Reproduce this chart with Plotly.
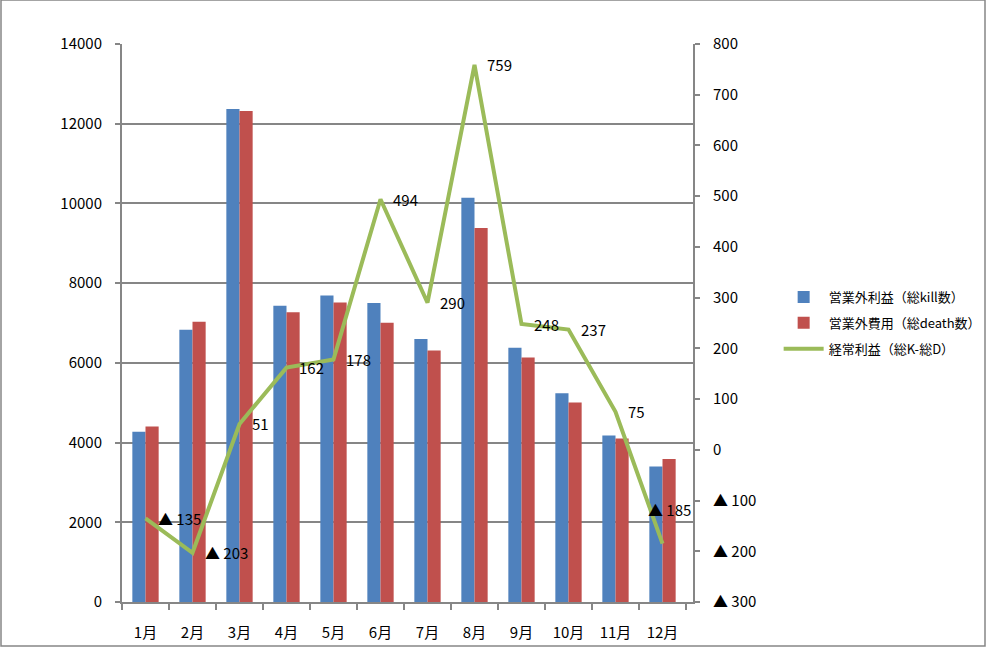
import plotly.graph_objects as go

months = ["1月", "2月", "3月", "4月", "5月", "6月", "7月", "8月", "9月", "10月", "11月", "12月"]
kills = [4270, 6830, 12370, 7430, 7690, 7500, 6600, 10140, 6380, 5240, 4180, 3400]
deaths = [4405, 7033, 12319, 7268, 7512, 7006, 6310, 9381, 6132, 5003, 4105, 3585]
profit = [-135, -203, 51, 162, 178, 494, 290, 759, 248, 237, 75, -185]
left_ticks = [0, 2000, 4000, 6000, 8000, 10000, 12000, 14000]
right_ticks = [-300, -200, -100, 0, 100, 200, 300, 400, 500, 600, 700, 800]


def fmt(v):
    return f"▲ {abs(v)}" if v < 0 else str(v)


FONT = "Noto Sans CJK JP, DejaVu Sans, sans-serif"
GRID = "#868686"

fig = go.Figure()
fig.add_trace(go.Bar(x=months, y=kills, name="営業外利益（総kill数）", marker_color="#4F81BD",
                     marker_line_width=0, legendgroup="a"))
fig.add_trace(go.Bar(x=months, y=deaths, name="営業外費用（総death数）", marker_color="#C0504D",
                     marker_line_width=0, legendgroup="b"))
fig.add_trace(go.Scatter(x=months, y=profit, name="経常利益（総K-総D）", yaxis="y2",
                         mode="lines", line=dict(color="#9BBB59", width=4), legendgroup="c"))

# data labels
n = len(months)
for i, (m, v) in enumerate(zip(months, profit)):
    last = i == n - 1
    fig.add_annotation(x=m, y=v, xref="x", yref="y2", text=fmt(v), showarrow=False,
                       xanchor="center" if last else "left",
                       xshift=7 if last else 10, yshift=34 if last else 0,
                       font=dict(size=15, color="black", family=FONT))

fig.update_layout(
    width=987, height=648,
    margin=dict(l=122, r=294, t=44, b=46, autoexpand=False),
    paper_bgcolor="white", plot_bgcolor="white",
    barmode="group", bargap=0.44, bargroupgap=0,
    font=dict(family=FONT, color="black"),
    showlegend=True,
    legend=dict(x=1.15, y=0.50, xanchor="left", yanchor="middle",
                font=dict(size=13, family=FONT), tracegroupgap=6,
                itemwidth=40, bgcolor="rgba(0,0,0,0)"),
    xaxis=dict(showline=True, linecolor=GRID, linewidth=2, ticks="outside",
               tickson="boundaries", ticklen=6, tickcolor=GRID, tickwidth=2,
               tickfont=dict(size=15), ticklabelstandoff=16, showgrid=False,
               automargin=False),
    yaxis=dict(range=[0, 14000], tickvals=left_ticks, ticktext=[str(t) for t in left_ticks],
               showline=True, linecolor=GRID,
               linewidth=2, ticks="outside", ticklen=5, tickcolor=GRID, tickwidth=2,
               showgrid=True, gridcolor=GRID, gridwidth=2, zeroline=False,
               tickfont=dict(size=15), ticklabelstandoff=10, automargin=False),
    yaxis2=dict(range=[-300, 800], overlaying="y", side="right",
                tickvals=right_ticks, ticktext=[fmt(v) for v in right_ticks],
                showline=True, linecolor=GRID, linewidth=2, ticks="outside",
                ticklen=5, tickcolor=GRID, tickwidth=2, showgrid=False, zeroline=False,
                tickfont=dict(size=15), ticklabelstandoff=10, automargin=False),
)

fig.add_shape(type="rect", xref="paper", yref="paper",
              x0=-121 / 571, x1=863 / 571, y0=-44 / 558, y1=602 / 558,
              line=dict(color="#868686", width=1.5), fillcolor="rgba(0,0,0,0)", layer="below")

fig.write_html("out.html")
